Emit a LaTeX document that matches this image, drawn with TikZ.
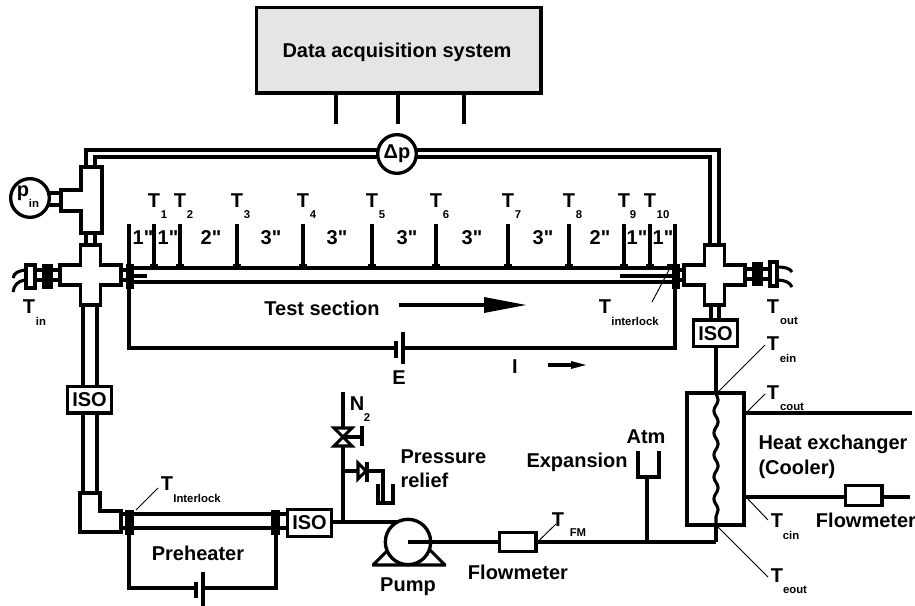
\documentclass[tikz,border=0pt]{standalone}
\usepackage{fontspec}
\usepackage{tikz}
\usetikzlibrary{decorations.pathmorphing}
\setmainfont{Liberation Sans}
\newfontfamily\inchfont{Liberation Sans}

\begin{document}
\begin{tikzpicture}[x=0.75pt, y=-0.75pt, line width=2.3pt,
	every node/.style={font=\bfseries\fontsize{15}{17}\selectfont, inner sep=0pt},
	sublabel/.style={font=\bfseries\fontsize{8.5}{10}\selectfont},
	isobox/.style={draw, fill=white, line width=2.5pt, minimum width=33pt, minimum height=20pt},
	flowbox/.style={draw, fill=white, line width=2.5pt, minimum width=27.5pt, minimum height=14pt},
	gauge/.style={draw, fill=white, circle, line width=2.5pt, minimum size=29pt},
	leader/.style={line width=0.7pt}]
	\useasboundingbox (0,0) rectangle (915,606);

	\node[draw, fill=black!10, line width=2.5pt, minimum width=213.5pt, minimum height=64pt] (daq) at (398.5,50.5) {};
	\node at (397,52) {Data acquisition system};
	\foreach \x/\n in {336/a,398/b,464/c} {
		\coordinate (daq\n) at (\x,94);
		\coordinate (end\n) at (\x,124);
		\draw (daq\n) -- (end\n);
	}

	\draw (86,167) -- (86,150) -- (719,150) -- (719,245);
	\draw (95,167) -- (95,157) -- (710,157) -- (710,245);
	\node[gauge] (dp) at (397,154) {Δp};

	\draw (81,167) -- (102,167) -- (102,233) -- (81,233) -- (81,211) -- (61,211) -- (61,190) -- (81,190) -- cycle;
	\node[gauge] (pin) at (30,198) {};
	\node at (23,193) {p};
	\node[sublabel] at (34,203) {in};
	\draw (pin) ++(17,-5) -- (61,193);
	\draw (pin) ++(17,7) -- (61,205);
	\draw (86,233) -- (86,245);
	\draw (95,233) -- (95,245);

	\foreach \cx in {90.5,714.5} {
		\draw[shift={(\cx,275)}] (-10,-30) -- (10,-30) -- (10,-10) -- (30.5,-10) -- (30.5,10) -- (10,10) -- (10,30) -- (-10,30) -- (-10,10) -- (-30.5,10) -- (-30.5,-10) -- (-10,-10) -- cycle;
	}

	\draw (133,268) -- (672,268);
	\draw (133,282) -- (672,282);
	\draw (133,276) -- (147,276);
	\draw (620,276) -- (672,276);
	\fill (126,264) rectangle (134,289);
	\fill (672,264) rectangle (680,289);
	\draw (121,270) -- (126,270);
	\draw (121,280) -- (126,280);
	\draw (680,270) -- (684,270);
	\draw (680,280) -- (684,280);

	\coordinate (rodin) at (129,224);
	\coordinate (rodout) at (675,224);
	\coordinate (wirein) at (129,348);
	\coordinate (wireout) at (675,348);
	\draw (rodin) -- (129,264);
	\draw (rodout) -- (675,264);
	\fill (667,264) rectangle (675,268);
	\draw (129,289) -- (wirein) -- (396,348);
	\draw (403,348) -- (wireout) -- (675,289);
	\draw (396,341) -- (396,358);
	\draw (403,332) -- (403,364);
	\node (E) at (399,378) {E};
	\node (I) at (515,367) {I};

	\foreach \x/\n/\s in {154/1/164,180/2/190,237/3/247,303/4/313,372/5/382,436/6/446,508/7/518,569/8/579,624/9/633,650/10/663} {
		\coordinate (rod\n) at (\x,224);
		\coordinate (foot\n) at (\x,268);
		\draw (rod\n) -- (foot\n);
		\fill (\x-4,264) rectangle (\x+4,268);
		\node (T\n) at (\x,201) {T};
		\node[sublabel] (s\n) at (\s,215) {\n};
	}
	\foreach \x/\l in {143/1,168/1,211/2,271/3,337/3,407/3,472/3,543/3,600/2,637/1,663/1} {
		\node[font=\inchfont\bfseries\fontsize{15}{17}\selectfont] at (\x,238) {\l"};
	}

	\node (test) at (322,308) {Test section};
	\coordinate (flowa) at (399,305);
	\coordinate (flowb) at (490,305);
	\draw (flowa) -- (flowb);
	\fill (484,297) -- (526,305) -- (484,313) -- cycle;
	\coordinate (curra) at (548,365);
	\coordinate (currb) at (575,365);
	\draw (curra) -- (currb);
	\fill (571,361) -- (586,365) -- (571,369) -- cycle;

	% inlet and outlet stubs
	\fill (42,264) rectangle (53,289);
	\draw[fill=white] (26,265) rectangle (35,288);
	\draw (35,270) -- (42,270) (35,280) -- (42,280) (53,270) -- (60,270) (53,280) -- (60,280);
	\draw (25,270) .. controls (18,271) and (14,273) .. (13,278);
	\draw (25,280) .. controls (18,281) and (14,285) .. (13,292);
	\fill (752,262) rectangle (763,286);
	\draw[fill=white] (770,262) rectangle (777,286);
	\draw (745,269) -- (752,269) (745,279) -- (752,279) (763,269) -- (770,269) (763,279) -- (770,279);
	\draw (777,267) .. controls (784,267) and (790,268) .. (792,272);
	\draw (777,280) .. controls (784,280) and (790,282) .. (792,287);
	\node at (29,307) {T};
	\node[sublabel] at (41,321) {in};
	\node at (773,307) {T};
	\node[sublabel] at (789,321) {out};
	\node at (605,307) {T};
	\node[sublabel] (intlk) at (635,321) {interlock};
	\draw[leader] (652,302) -- (669,270);

	\node[isobox] (isoa) at (89.5,399.5) {ISO};
	\node[isobox] (isob) at (309.5,523) {ISO};
	\node[isobox] (isoc) at (715.5,333.5) {ISO};
	\draw (83,305) -- (83,385) (97,305) -- (97,385);
	\draw (83,414) -- (83,493) (97,414) -- (97,493);
	\draw (711,305) -- (711,319) (719,305) -- (719,319);

	\draw (80,493) -- (100,493) -- (100,511) -- (121,511) -- (121,532) -- (80,532) -- cycle;
	\draw (121,514) -- (125,514) (121,528) -- (125,528);
	\fill (125,510) rectangle (134,535);
	\fill (271,510) rectangle (280,535);
	\draw (134,514) -- (271,514);
	\draw (134,528) -- (271,528);
	\draw (280,514) -- (286,514) (280,528) -- (286,528);
	\node at (167,484) {T};
	\node[sublabel] (intlkb) at (197,498) {Interlock};
	\draw[leader] (158,488) -- (136,510);
	\node (preheat) at (198,553) {Preheater};
	\draw (129,535) -- (129,588) -- (196,588);
	\draw (203,588) -- (276,588) -- (276,535);
	\draw (196,582) -- (196,598);
	\draw (203,572) -- (203,606);

	\coordinate (nitro) at (343,392);
	\coordinate (tee) at (343,522);
	\draw (isob.east |- tee) -- (tee) -- (408,522);
	\draw (nitro) -- (tee);
	\draw[fill=white] (334,428) -- (352,428) -- (334,446) -- (352,446) -- cycle;
	\draw (343,437) -- (362,437);
	\draw (362,426) -- (362,446);
	\node at (357,404) {N};
	\node[sublabel] at (367,418) {2};
	\draw (343,471) -- (383,471) -- (383,503);
	\draw[fill=white] (358,463) -- (366,471) -- (358,479) -- cycle;
	\draw (367,462) -- (367,482);
	\draw (378,484) -- (378,503) -- (393,503) -- (393,484);
	\node[anchor=west] at (399,457) {Pressure};
	\node[anchor=west] at (399,480) {relief};

	\draw (373,565) -- (390,548) (445,565) -- (428,548) (372,565) -- (446,565);
	\node[draw, fill=white, circle, line width=2.5pt, minimum size=34pt] (pump) at (408,542) {};
	\node (pumplab) at (408,587) {Pump};
	\node[flowbox] (fma) at (517.5,542) {};
	\node (fmalab) at (518,572) {Flowmeter};
	\node at (558,520) {T};
	\node[sublabel] at (578,533) {FM};
	\draw[leader] (556,524) -- (fma.east);
	\coordinate (junc) at (716,542);
	\coordinate (vent) at (647,542);
	\draw (pump.center) -- (fma.west);
	\draw (fma.east) -- (junc);
	\node[anchor=west] (expa) at (525,462) {Expansion};
	\node (atm) at (646,437) {Atm};
	\draw (vent) -- (647,477);
	\draw (640,453) -- (638,453) -- (638,477) -- (659,477) -- (659,453) -- (657,453);

	\node[draw, line width=2.5pt, minimum width=42.7pt, minimum height=99pt] (hx) at (715.5,459) {};
	\draw (isoc.south -| junc) -- (hx.north -| junc);
	\draw[decorate, decoration={snake, segment length=16.5pt, amplitude=1.6pt}] (716,393) -- (716,525);
	\draw (716,525) -- (junc);
	\coordinate (coolb) at (912,413);
	\coordinate (coola) at (744,413);
	\draw (coola) -- (coolb);
	\coordinate (coolc) at (744,497);
	\coordinate (coold) at (910,497);
	\node[flowbox, minimum height=15pt] (fmb) at (863.5,495.5) {};
	\draw (coolc) -- (coolc -| fmb.west);
	\draw (coold -| fmb.east) -- (coold);
	\node[anchor=west] (hxlab) at (757,444) {Heat exchanger};
	\node[anchor=west] (hxlabb) at (757,469) {(Cooler)};
	\node (fmblab) at (866,520) {Flowmeter};

	\node at (773,344) {T};
	\node[sublabel] at (788,358) {ein};
	\draw[leader] (765,345) -- (717,393);
	\node at (773,393) {T};
	\node[sublabel] at (792,407) {cout};
	\draw[leader] (765,394) -- (747,412);
	\node at (777,521) {T};
	\node[sublabel] at (791,535) {cin};
	\draw[leader] (768,520) -- (747,498);
	\node at (777,576) {T};
	\node[sublabel] at (795,590) {eout};
	\draw[leader] (768,577) -- (718,527);
\end{tikzpicture}
\end{document}
